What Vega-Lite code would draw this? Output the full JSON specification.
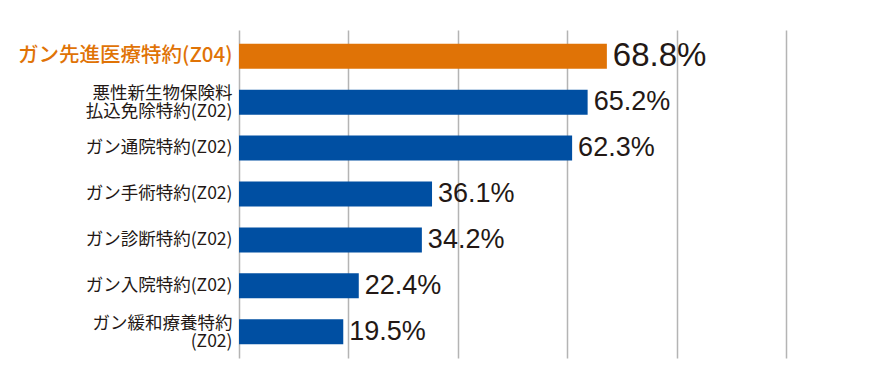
{
  "$schema": "https://vega.github.io/schema/vega-lite/v6.json",
  "width": 547,
  "height": 328,
  "autosize": {"type": "none"},
  "padding": {"left": 239, "top": 30, "right": 107, "bottom": 20},
  "background": "white",
  "config": {"view": {"stroke": null}},
  "data": {
    "values": [
      {"label": "ガン先進医療特約(Z04)", "value": 68.8},
      {"label": "悪性新生物保険料|払込免除特約(Z02)", "value": 65.2},
      {"label": "ガン通院特約(Z02)", "value": 62.3},
      {"label": "ガン手術特約(Z02)", "value": 36.1},
      {"label": "ガン診断特約(Z02)", "value": 34.2},
      {"label": "ガン入院特約(Z02)", "value": 22.4},
      {"label": "ガン緩和療養特約|(Z02)", "value": 19.5}
    ]
  },
  "transform": [{"calculate": "format(datum.value, '.1f') + '%'", "as": "pct"}],
  "encoding": {
    "y": {
      "field": "label",
      "type": "nominal",
      "sort": null,
      "title": null,
      "scale": {"paddingInner": 0.455, "paddingOuter": 0.3},
      "axis": {
        "domain": false,
        "ticks": false,
        "labelPadding": 7,
        "labelFont": "Noto Sans CJK JP",
        "labelFontSize": {"condition": {"test": "indexof(datum.value, 'Z04') >= 0", "value": 20.5}, "value": 17.5},
        "labelColor": {"condition": {"test": "indexof(datum.value, 'Z04') >= 0", "value": "#e07306"}, "value": "#231815"},
        "labelFontWeight": {"condition": {"test": "indexof(datum.value, 'Z04') >= 0", "value": 500}, "value": 400},
        "labelOffset": {"condition": {"test": "indexof(datum.value, '|') >= 0", "value": -8}, "value": 0},
        "labelLimit": 300,
        "labelLineHeight": 18,
        "labelExpr": "split(datum.label, '|')"
      }
    },
    "x": {
      "field": "value",
      "type": "quantitative",
      "title": null,
      "scale": {"domain": [0, 102.3], "nice": false, "zero": true},
      "axis": {
        "orient": "bottom",
        "values": [0, 20.46, 40.92, 61.38, 81.84, 102.3],
        "labels": false,
        "ticks": false,
        "domain": false,
        "grid": true,
        "gridColor": "#b4b4b4",
        "gridWidth": 1.5
      }
    }
  },
  "layer": [
    {
      "mark": {"type": "bar"},
      "encoding": {
        "color": {"condition": {"test": "indexof(datum.label, 'Z04') >= 0", "value": "#e07306"}, "value": "#004fa2"}
      }
    },
    {
      "mark": {"type": "text", "align": "left", "baseline": "middle", "dx": 6, "font": "Liberation Sans", "color": "#231815"},
      "encoding": {
        "text": {"field": "pct"},
        "size": {"condition": {"test": "indexof(datum.label, 'Z04') >= 0", "value": 33}, "value": 27}
      }
    }
  ]
}
